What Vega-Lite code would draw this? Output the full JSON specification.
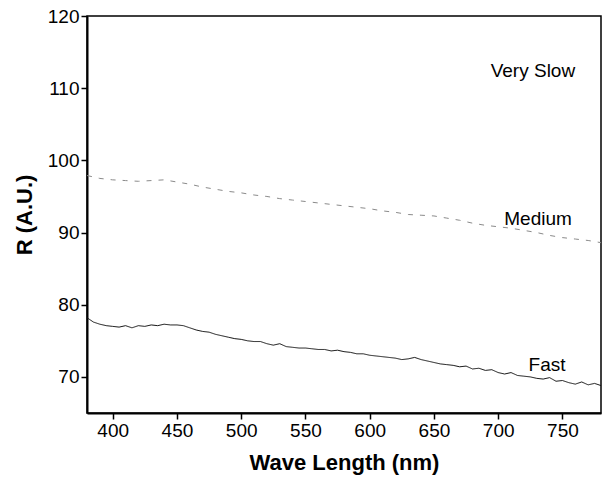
{
  "$schema": "https://vega.github.io/schema/vega-lite/v6.json",
  "width": 514,
  "height": 397,
  "autosize": "none",
  "padding": {"left": 87, "top": 16, "right": 4, "bottom": 67},
  "background": "white",
  "config": {
    "view": {"stroke": "black", "strokeWidth": 1.5},
    "font": "Liberation Sans",
    "axis": {"grid": false, "domainColor": "black", "domainWidth": 2, "tickColor": "black", "tickOpacity": 1, "labelColor": "black", "titleColor": "black", "labelFont": "Liberation Sans", "titleFont": "Liberation Sans", "labelFontSize": 19, "titleFontSize": 22, "titleFontWeight": "bold"}
  },
  "datasets": {
    "spectra": [
      {"wl": 380, "R": 78.2, "series": "Fast"}, {"wl": 385, "R": 77.6, "series": "Fast"}, {"wl": 390, "R": 77.3, "series": "Fast"}, {"wl": 395, "R": 77.1, "series": "Fast"}, {"wl": 400, "R": 77.0, "series": "Fast"}, {"wl": 405, "R": 76.9, "series": "Fast"}, {"wl": 410, "R": 77.1, "series": "Fast"}, {"wl": 415, "R": 76.8, "series": "Fast"}, {"wl": 420, "R": 77.1, "series": "Fast"}, {"wl": 425, "R": 77.0, "series": "Fast"}, {"wl": 430, "R": 77.2, "series": "Fast"}, {"wl": 435, "R": 77.1, "series": "Fast"}, {"wl": 440, "R": 77.3, "series": "Fast"}, {"wl": 445, "R": 77.2, "series": "Fast"}, {"wl": 450, "R": 77.2, "series": "Fast"}, {"wl": 455, "R": 77.1, "series": "Fast"}, {"wl": 460, "R": 76.8, "series": "Fast"}, {"wl": 465, "R": 76.5, "series": "Fast"}, {"wl": 470, "R": 76.3, "series": "Fast"}, {"wl": 475, "R": 76.2, "series": "Fast"}, {"wl": 480, "R": 75.9, "series": "Fast"}, {"wl": 485, "R": 75.7, "series": "Fast"}, {"wl": 490, "R": 75.5, "series": "Fast"}, {"wl": 495, "R": 75.3, "series": "Fast"}, {"wl": 500, "R": 75.2, "series": "Fast"}, {"wl": 505, "R": 75.0, "series": "Fast"}, {"wl": 510, "R": 74.9, "series": "Fast"}, {"wl": 515, "R": 74.9, "series": "Fast"}, {"wl": 520, "R": 74.6, "series": "Fast"}, {"wl": 525, "R": 74.4, "series": "Fast"}, {"wl": 530, "R": 74.6, "series": "Fast"}, {"wl": 535, "R": 74.2, "series": "Fast"}, {"wl": 540, "R": 74.1, "series": "Fast"}, {"wl": 545, "R": 74.0, "series": "Fast"}, {"wl": 550, "R": 74.0, "series": "Fast"}, {"wl": 555, "R": 73.9, "series": "Fast"}, {"wl": 560, "R": 73.8, "series": "Fast"}, {"wl": 565, "R": 73.8, "series": "Fast"}, {"wl": 570, "R": 73.6, "series": "Fast"}, {"wl": 575, "R": 73.7, "series": "Fast"}, {"wl": 580, "R": 73.5, "series": "Fast"}, {"wl": 585, "R": 73.4, "series": "Fast"}, {"wl": 590, "R": 73.2, "series": "Fast"}, {"wl": 595, "R": 73.2, "series": "Fast"}, {"wl": 600, "R": 73.0, "series": "Fast"}, {"wl": 605, "R": 72.9, "series": "Fast"}, {"wl": 610, "R": 72.8, "series": "Fast"}, {"wl": 615, "R": 72.7, "series": "Fast"}, {"wl": 620, "R": 72.6, "series": "Fast"}, {"wl": 625, "R": 72.4, "series": "Fast"}, {"wl": 630, "R": 72.5, "series": "Fast"}, {"wl": 635, "R": 72.7, "series": "Fast"}, {"wl": 640, "R": 72.4, "series": "Fast"}, {"wl": 645, "R": 72.2, "series": "Fast"}, {"wl": 650, "R": 72.0, "series": "Fast"}, {"wl": 655, "R": 71.8, "series": "Fast"}, {"wl": 660, "R": 71.7, "series": "Fast"}, {"wl": 665, "R": 71.6, "series": "Fast"}, {"wl": 670, "R": 71.4, "series": "Fast"}, {"wl": 675, "R": 71.5, "series": "Fast"}, {"wl": 680, "R": 71.1, "series": "Fast"}, {"wl": 685, "R": 71.2, "series": "Fast"}, {"wl": 690, "R": 70.9, "series": "Fast"}, {"wl": 695, "R": 71.0, "series": "Fast"}, {"wl": 700, "R": 70.6, "series": "Fast"}, {"wl": 705, "R": 70.4, "series": "Fast"}, {"wl": 710, "R": 70.6, "series": "Fast"}, {"wl": 715, "R": 70.2, "series": "Fast"}, {"wl": 720, "R": 70.1, "series": "Fast"}, {"wl": 725, "R": 70.0, "series": "Fast"}, {"wl": 730, "R": 69.8, "series": "Fast"}, {"wl": 735, "R": 69.7, "series": "Fast"}, {"wl": 740, "R": 69.9, "series": "Fast"}, {"wl": 745, "R": 69.4, "series": "Fast"}, {"wl": 750, "R": 69.5, "series": "Fast"}, {"wl": 755, "R": 69.2, "series": "Fast"}, {"wl": 760, "R": 69.0, "series": "Fast"}, {"wl": 765, "R": 69.3, "series": "Fast"}, {"wl": 770, "R": 68.9, "series": "Fast"}, {"wl": 775, "R": 69.1, "series": "Fast"}, {"wl": 780, "R": 68.8, "series": "Fast"},
      {"wl": 380, "R": 97.9, "series": "Medium"}, {"wl": 390, "R": 97.5, "series": "Medium"}, {"wl": 400, "R": 97.3, "series": "Medium"}, {"wl": 410, "R": 97.2, "series": "Medium"}, {"wl": 420, "R": 97.1, "series": "Medium"}, {"wl": 430, "R": 97.2, "series": "Medium"}, {"wl": 440, "R": 97.3, "series": "Medium"}, {"wl": 450, "R": 97.0, "series": "Medium"}, {"wl": 460, "R": 96.7, "series": "Medium"}, {"wl": 470, "R": 96.3, "series": "Medium"}, {"wl": 480, "R": 96.0, "series": "Medium"}, {"wl": 490, "R": 95.7, "series": "Medium"}, {"wl": 500, "R": 95.5, "series": "Medium"}, {"wl": 510, "R": 95.2, "series": "Medium"}, {"wl": 520, "R": 95.0, "series": "Medium"}, {"wl": 530, "R": 94.7, "series": "Medium"}, {"wl": 540, "R": 94.5, "series": "Medium"}, {"wl": 550, "R": 94.3, "series": "Medium"}, {"wl": 560, "R": 94.1, "series": "Medium"}, {"wl": 570, "R": 93.9, "series": "Medium"}, {"wl": 580, "R": 93.7, "series": "Medium"}, {"wl": 590, "R": 93.5, "series": "Medium"}, {"wl": 600, "R": 93.3, "series": "Medium"}, {"wl": 610, "R": 93.0, "series": "Medium"}, {"wl": 620, "R": 92.8, "series": "Medium"}, {"wl": 630, "R": 92.5, "series": "Medium"}, {"wl": 640, "R": 92.4, "series": "Medium"}, {"wl": 650, "R": 92.3, "series": "Medium"}, {"wl": 660, "R": 92.0, "series": "Medium"}, {"wl": 670, "R": 91.7, "series": "Medium"}, {"wl": 680, "R": 91.3, "series": "Medium"}, {"wl": 690, "R": 91.0, "series": "Medium"}, {"wl": 700, "R": 90.8, "series": "Medium"}, {"wl": 710, "R": 90.6, "series": "Medium"}, {"wl": 720, "R": 90.3, "series": "Medium"}, {"wl": 730, "R": 90.0, "series": "Medium"}, {"wl": 740, "R": 89.6, "series": "Medium"}, {"wl": 750, "R": 89.3, "series": "Medium"}, {"wl": 760, "R": 89.1, "series": "Medium"}, {"wl": 770, "R": 88.9, "series": "Medium"}, {"wl": 780, "R": 88.6, "series": "Medium"}
    ],
    "labels": [
      {"wl": 727, "R": 112.4, "text": "Very Slow"},
      {"wl": 731, "R": 91.9, "text": "Medium"},
      {"wl": 738, "R": 71.7, "text": "Fast"}
    ]
  },
  "layer": [
    {
      "data": {"name": "spectra"},
      "mark": {"type": "line", "strokeWidth": 1, "interpolate": "linear"},
      "encoding": {
        "x": {"field": "wl", "type": "quantitative", "title": "Wave Length (nm)", "scale": {"domain": [380, 780], "nice": false, "zero": false},
          "axis": {"values": [400, 425, 450, 475, 500, 525, 550, 575, 600, 625, 650, 675, 700, 725, 750, 775], "labelExpr": "datum.value % 50 === 0 ? datum.label : ''", "ticks": true, "tickSize": {"condition": {"test": "datum.value % 50 === 0", "value": 6}, "value": 3}, "tickWidth": 1.5, "labelPadding": 2, "titlePadding": 12}},
        "y": {"field": "R", "type": "quantitative", "title": "R (A.U.)", "scale": {"domain": [65, 120], "nice": false, "zero": false},
          "axis": {"values": [70, 75, 80, 85, 90, 95, 100, 105, 110, 115, 120], "labelExpr": "datum.value % 10 === 0 ? datum.label : ''", "ticks": true, "tickSize": {"condition": {"test": "datum.value % 10 === 0", "value": 6}, "value": 3}, "tickWidth": 1.5, "labelPadding": 2, "titlePadding": 11}},
        "color": {"field": "series", "type": "nominal", "legend": null, "scale": {"domain": ["Fast", "Medium"], "range": ["#111111", "#8a8a8a"]}},
        "strokeDash": {"field": "series", "type": "nominal", "legend": null, "scale": {"domain": ["Fast", "Medium"], "range": [[1, 0], [5, 7]]}}
      }
    },
    {
      "data": {"name": "labels"},
      "mark": {"type": "text", "fontSize": 19, "font": "Liberation Sans", "color": "black", "align": "center", "baseline": "middle"},
      "encoding": {
        "x": {"field": "wl", "type": "quantitative"},
        "y": {"field": "R", "type": "quantitative"},
        "text": {"field": "text"}
      }
    }
  ]
}
